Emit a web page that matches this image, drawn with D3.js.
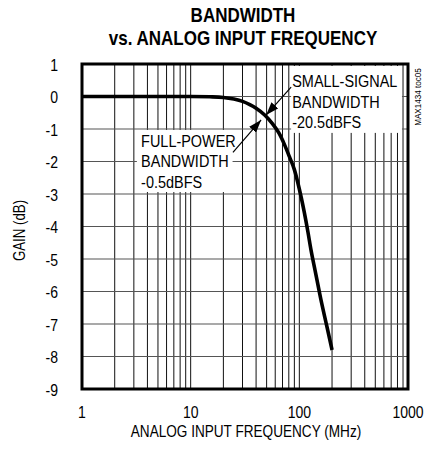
<!DOCTYPE html>
<html lang="en">
<head>
<meta charset="UTF-8">
<title>Bandwidth vs. Analog Input Frequency</title>
<script src="https://d3js.org/d3.v7.min.js"></script>
<style>
  body { margin: 0; background: #fff; }
  svg { display: block; }
  text { font-family: "Liberation Sans", Arial, sans-serif; fill: #000; }
</style>
</head>
<body>
<svg width="424" height="454"></svg>
<script>
// curve (MHz, dB)
let freqMHz = [1, 5, 10, 15, 20, 25, 30, 35, 40, 48, 56, 65, 73, 81, 90, 97, 104, 111, 120, 128, 140, 158, 180, 200];
let gainDb  = [0, 0, 0, -0.01, -0.03, -0.08, -0.15, -0.25, -0.36, -0.57, -0.82, -1.13, -1.48, -1.85, -2.25, -2.66, -3.1, -3.56, -4.17, -4.72, -5.37, -6.25, -7.1, -7.8];

let xTicks = [1, 10, 100, 1000];
let yTicks = [1, 0, -1, -2, -3, -4, -5, -6, -7, -8, -9];

let titleLines = ["BANDWIDTH", "vs. ANALOG INPUT FREQUENCY"];
let fullPowerLines = ["FULL-POWER", "BANDWIDTH", "-0.5dBFS"];
let smallSignalLines = ["SMALL-SIGNAL", "BANDWIDTH", "-20.5dBFS"];

let svg = d3.select('svg');
let margins = {left: 82, right: 16, top: 64, bottom: 65};
let width = 424 - margins.left - margins.right;
let height = 454 - margins.top - margins.bottom;

let xscale = d3.scaleLog().domain([1, 1000]).range([0, width]);
let yscale = d3.scaleLinear().domain([-9, 1]).range([height, 0]);

// no narrow font installed, so squeeze horizontally
function squeeze(k, x, y) {
  return 'translate(' + x + ',' + y + ') scale(' + k + ',1)';
}

let g = svg.append('g').attr('transform', 'translate(' + margins.left + ',' + margins.top + ')');

// grid: verticals 2..9 in each decade
let vLines = [];
[1, 10, 100].forEach(function (dec) {
  for (let k = 1; k <= 9; k++) vLines.push(dec * k);
});
g.selectAll('.vgrid').data(vLines.filter(function (d) { return d > 1; }))
  .enter().append('line')
  .attr('x1', function (d) { return xscale(d); })
  .attr('x2', function (d) { return xscale(d); })
  .attr('y1', 0).attr('y2', height)
  .attr('stroke', '#111').attr('stroke-width', 1);

g.selectAll('.hgrid').data(yTicks.slice(1, -1))
  .enter().append('line')
  .attr('x1', 0).attr('x2', width)
  .attr('y1', function (d) { return yscale(d); })
  .attr('y2', function (d) { return yscale(d); })
  .attr('stroke', '#555').attr('stroke-width', 1.2);

// annotation boxes (white, cover the grid)
function box(f0, f1, g0, g1) {
  g.append('rect')
    .attr('x', xscale(f0)).attr('y', yscale(g0))
    .attr('width', xscale(f1) - xscale(f0))
    .attr('height', yscale(g1) - yscale(g0))
    .attr('fill', '#fff');
}
box(3.2, 24.3, -1.03, -2.94);
box(84, 880, 0.94, -1.12);

// curve
let line = d3.line()
  .x(function (d, i) { return xscale(freqMHz[i]); })
  .y(function (d) { return yscale(d); })
  .curve(d3.curveMonotoneX);
g.append('path').datum(gainDb)
  .attr('d', line)
  .attr('fill', 'none')
  .attr('stroke', '#000')
  .attr('stroke-width', 3.6)
  .attr('stroke-linejoin', 'round');

// frame
g.append('rect')
  .attr('x', 0).attr('y', 0)
  .attr('width', width).attr('height', height)
  .attr('fill', 'none').attr('stroke', '#000').attr('stroke-width', 3);

// arrows
svg.append('defs').append('marker')
  .attr('id', 'arrow')
  .attr('viewBox', '0 0 13 9')
  .attr('refX', 13).attr('refY', 4.5)
  .attr('markerWidth', 13).attr('markerHeight', 9)
  .attr('markerUnits', 'userSpaceOnUse')
  .attr('orient', 'auto')
  .append('path').attr('d', 'M0,0 L13,4.5 L0,9 Z').attr('fill', '#000');

function arrow(f0, g0, f1, g1) {
  g.append('line')
    .attr('x1', xscale(f0)).attr('y1', yscale(g0))
    .attr('x2', xscale(f1)).attr('y2', yscale(g1))
    .attr('stroke', '#000').attr('stroke-width', 1.2)
    .attr('marker-end', 'url(#arrow)');
}
arrow(24.5, -1.72, 44.5, -0.72);
arrow(84, 0.29, 49.5, -0.57);

// annotation text, one text element per line
function label(lines, f, gtop) {
  g.selectAll(null).data(lines).enter().append('text')
    .attr('transform', function (d, i) { return squeeze(0.85, xscale(f), yscale(gtop) + i * 20.5); })
    .style('font-size', '17px')
    .text(function (d) { return d; });
}
label(fullPowerLines, 3.5, -1.55);
label(smallSignalLines, 86, 0.29);

// axes tick labels
g.selectAll('.ytick').data(yTicks).enter().append('text')
  .attr('transform', function (d) { return squeeze(0.85, -24, yscale(d)); })
  .attr('dy', '0.42em')
  .attr('text-anchor', 'end')
  .style('font-size', '16.5px')
  .text(function (d) { return d; });

g.selectAll('.xtick').data(xTicks).enter().append('text')
  .attr('transform', function (d) { return squeeze(0.85, xscale(d), height + 29); })
  .attr('text-anchor', 'middle')
  .style('font-size', '16.5px')
  .text(function (d) { return d; });

// axis titles
svg.append('text')
  .attr('transform', 'translate(25,' + (margins.top + height / 2 + 4) + ') rotate(-90) scale(0.83,1)')
  .attr('text-anchor', 'middle')
  .style('font-size', '16px')
  .text('GAIN (dB)');

svg.append('text')
  .attr('transform', squeeze(0.85, 246, 437))
  .attr('text-anchor', 'middle')
  .style('font-size', '16px')
  .text('ANALOG INPUT FREQUENCY (MHz)');

// title
svg.selectAll('.title').data(titleLines).enter().append('text')
  .attr('transform', function (d, i) { return squeeze(0.81, 243, 22 + i * 23); })
  .attr('text-anchor', 'middle')
  .style('font-size', '21px')
  .style('font-weight', 'bold')
  .text(function (d) { return d; });

// side note
svg.append('text')
  .attr('transform', 'translate(421,97) rotate(-90) scale(0.9,1)')
  .attr('text-anchor', 'middle')
  .style('font-size', '9px')
  .text('MAX1434 toc05');
</script>
</body>
</html>
